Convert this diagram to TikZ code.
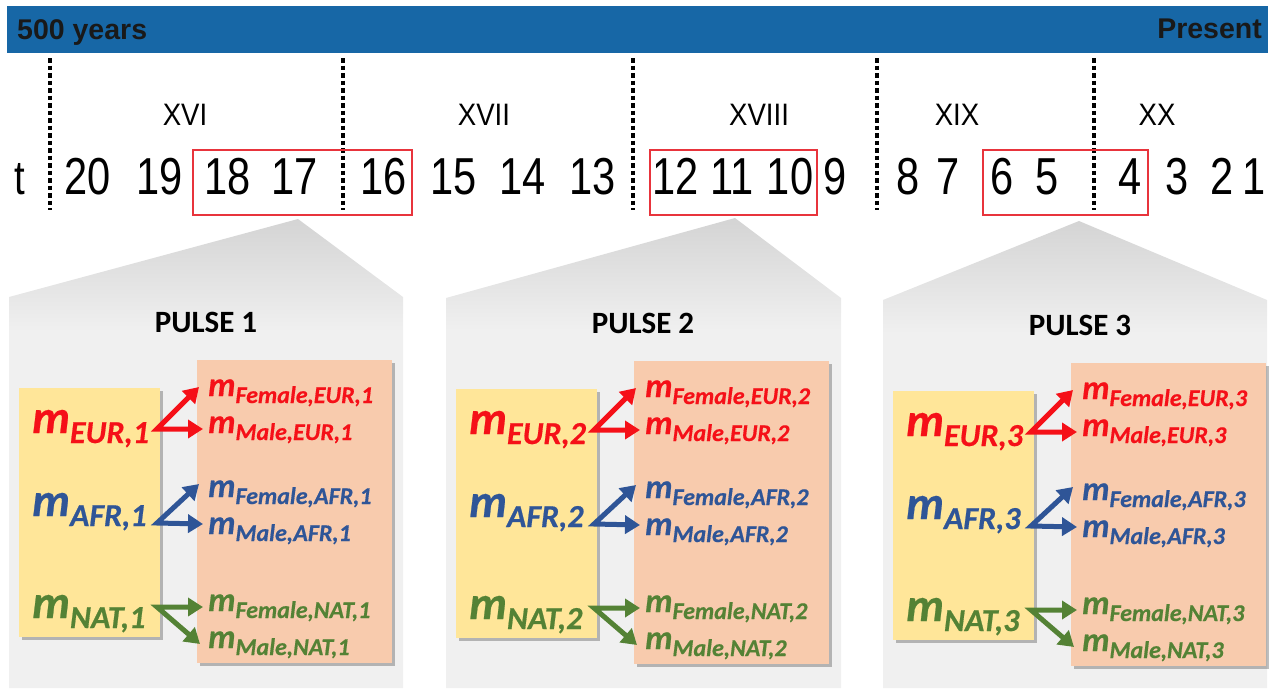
\documentclass[tikz,border=0pt]{standalone}
\usepackage{fontspec}
\setmainfont{Liberation Sans}
\newfontfamily\narrowfont[FakeStretch=0.8]{Liberation Sans}
\newfontfamily\romanfont[FakeStretch=0.89]{Liberation Sans}
\newfontfamily\calfont{Carlito}
\newfontfamily\mfont{Carlito}[BoldItalicFeatures={FakeBold=0.5}]
\usetikzlibrary{arrows.meta,shadows}

\definecolor{barblue}{RGB}{23,103,166}
\definecolor{boxred}{RGB}{232,52,60}
\definecolor{eurred}{RGB}{245,16,24}
\definecolor{afrblue}{RGB}{47,85,151}
\definecolor{natgreen}{RGB}{84,130,53}
\definecolor{yelfill}{RGB}{255,230,153}
\definecolor{orafill}{RGB}{248,203,173}
\definecolor{panelgray}{RGB}{240,240,240}
\definecolor{paneltop}{RGB}{212,212,212}

\pgfdeclareverticalshading{panelshade}{100bp}{%
  color(0bp)=(panelgray); color(25bp)=(panelgray); color(63bp)=(panelgray);
  color(75bp)=(paneltop); color(100bp)=(paneltop)}

% large and small migration-rate symbols
\newcommand{\mrateL}[1]{{\mfont\bfseries\itshape\fontsize{47}{47}\selectfont m\raisebox{-10pt}{\fontsize{32}{32}\selectfont #1}}}
\newcommand{\mrateS}[1]{{\mfont\bfseries\itshape\fontsize{34}{34}\selectfont m\raisebox{-7pt}{\fontsize{24}{24}\selectfont #1}}}

\tikzset{
  tick/.style={anchor=base, inner sep=0, font=\narrowfont\fontsize{52}{52}\selectfont},
  century/.style={anchor=base, inner sep=0, font=\romanfont\fontsize{31}{31}\selectfont},
  divider/.style={line width=3.2pt, dash pattern=on 4.5pt off 3pt},
  pulsebox/.style={draw=boxred, line width=2pt},
  panel/.style={shading=panelshade},
  ybox/.style={fill=yelfill, anchor=north west, inner sep=0,
    drop shadow={shadow xshift=3pt, shadow yshift=-3pt, fill=black, opacity=0.25}},
  obox/.style={fill=orafill, anchor=north west, inner sep=0,
    drop shadow={shadow xshift=3pt, shadow yshift=-3pt, fill=black, opacity=0.25}},
  lab/.style={anchor=base west, inner sep=0},
  arr/.style={line width=5pt, line join=miter,
    {Triangle[length=15pt,width=18pt]}-{Triangle[length=15pt,width=18pt]}},
  ptitle/.style={inner sep=0, font=\calfont\bfseries\fontsize{31}{31}\selectfont},
}

% contents of one pulse panel, drawn in panel-local coordinates
\newcommand{\pulsecontent}[1]{%
  \node[ptitle] (title#1) at (206,322) {PULSE #1};
  \node[ybox, minimum width=141pt, minimum height=249pt] (yel#1) at (19,388) {};
  \node[obox, minimum width=195pt, minimum height=303pt] (ora#1) at (197,360) {};
  % source populations
  \node[lab, text=eurred]   (eur#1) at (32,433) {\mrateL{EUR,#1}};
  \node[lab, text=afrblue]  (afr#1) at (32,516) {\mrateL{AFR,#1}};
  \node[lab, text=natgreen] (nat#1) at (32,618) {\mrateL{NAT,#1}};
  % sex-specific rates
  \node[lab, text=eurred]   (feur#1) at (208,396) {\mrateS{Female,EUR,#1}};
  \node[lab, text=eurred]   (meur#1) at (208,433) {\mrateS{Male,EUR,#1}};
  \node[lab, text=afrblue]  (fafr#1) at (208,497) {\mrateS{Female,AFR,#1}};
  \node[lab, text=afrblue]  (mafr#1) at (208,534) {\mrateS{Male,AFR,#1}};
  \node[lab, text=natgreen] (fnat#1) at (208,611) {\mrateS{Female,NAT,#1}};
  \node[lab, text=natgreen] (mnat#1) at (208,648) {\mrateS{Male,NAT,#1}};
  % arrow end points
  \coordinate (se#1) at (157,429);
  \coordinate (sa#1) at (157,523);
  \coordinate (sn#1) at (157,607);
  \coordinate (tfe#1) at (199,387);
  \coordinate (tme#1) at (203,429);
  \coordinate (tfa#1) at (199,484);
  \coordinate (tma#1) at (203,524);
  \coordinate (tfn#1) at (203,607);
  \coordinate (tmn#1) at (200,644);
  \draw[arr, draw=eurred] (tfe#1) -- (se#1) -- (tme#1);
  \draw[arr, draw=afrblue] (tfa#1) -- (sa#1) -- (tma#1);
  \draw[arr, draw=natgreen] (tfn#1) -- (sn#1) -- (tmn#1);
}

\begin{document}
\begin{tikzpicture}[x=1pt, y=-1pt]
\useasboundingbox (0,0) rectangle (1278,689);

% time bar
\fill[barblue] (7,6) rectangle (1268,53);
\node[anchor=base west, inner sep=0, text=black!90, font=\bfseries\fontsize{28.5}{28.5}\selectfont] (start) at (17,39) {500 years};
\node[anchor=base east, inner sep=0, text=black!90, font=\bfseries\fontsize{28.5}{28.5}\selectfont] (present) at (1262,38) {Present};

% century dividers
\foreach \x [count=\i] in {50,343,633,877,1094}
  \draw[divider] (\x,58) coordinate (dtop\i) -- (\x,210) coordinate (dbot\i);

% centuries
\node[century] (c16) at (185,125) {XVI};
\node[century] (c17) at (484,125) {XVII};
\node[century] (c18) at (759,125) {XVIII};
\node[century] (c19) at (957,125) {XIX};
\node[century] (c20) at (1157,125) {XX};

% generations
\node[anchor=base, inner sep=0, font=\narrowfont\fontsize{48}{48}\selectfont] (tlab) at (20,194) {t};
\foreach \n/\x in {20/87.5,19/160,18/227.5,17/295,16/384,15/454,14/522.5,13/592.5,
                   12/676,11/732.5,10/790,9/835,8/908,7/948.5,6/1002,5/1047,4/1130,3/1177.5,2/1222,1/1254}
  \node[tick] (g\n) at (\x,194) {\n};

% pulse intervals
\draw[pulsebox] (193,150) rectangle (412,215);
\draw[pulsebox] (650,150) rectangle (817,215);
\draw[pulsebox] (983,150) rectangle (1148,215);

% callout panels
\shade[panel] (9,688) -- (9,297) -- (298,219) -- (403,297) -- (403,688) -- cycle;
\shade[panel] (446,688) -- (446,298) -- (735,218) -- (841,298) -- (841,688) -- cycle;
\shade[panel] (883,688) -- (883,300) -- (1079,221) -- (1267,300) -- (1267,688) -- cycle;

\begin{scope}
  \pulsecontent{1}
\end{scope}
\begin{scope}[shift={(437,1)}]
  \pulsecontent{2}
\end{scope}
\begin{scope}[shift={(874,3)}]
  \pulsecontent{3}
\end{scope}
\end{tikzpicture}
\end{document}
